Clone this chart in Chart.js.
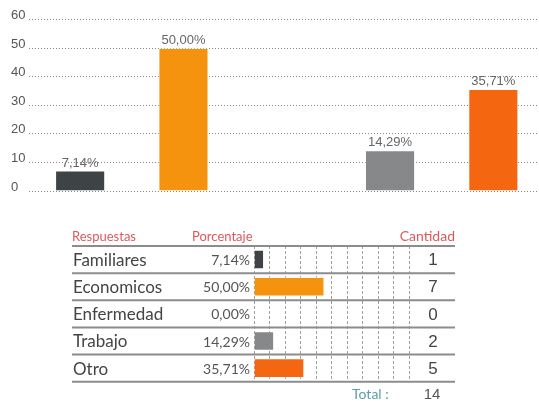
<!DOCTYPE html>
<html>
<head>
<meta charset="utf-8">
<script src="https://cdn.jsdelivr.net/npm/chart.js@4"></script>
<style>
  html, body { margin: 0; padding: 0; background: #fff; overflow: hidden; width: 539px; height: 402px; }
  #top { position: absolute; left: 0; top: 0; }
  #table { position: absolute; left: 0; top: 200px; }
</style>
</head>
<body>
<canvas id="top" width="545" height="200"></canvas>
<canvas id="table" width="539" height="202"></canvas>
<script>
const categories = ["Familiares", "Economicos", "Enfermedad", "Trabajo", "Otro"]
const percentages = [7.14, 50.00, 0, 14.29, 35.71]
const counts = [1, 7, 0, 2, 5]
const total = 14
const yMax = 60
const yStep = 10

const barColors = ["#3e4345", "#f5930f", "#9a9a9a", "#87888a", "#f4660f"]

const fmt = v => v.toFixed(2).replace(".", ",") + "%"

// value labels above the top bars
const valueLabels = {
  id: "valueLabels",
  afterDatasetsDraw(chart) {
    const { ctx } = chart
    const meta = chart.getDatasetMeta(0)
    ctx.save()
    ctx.font = "13px 'Liberation Sans', Arial, sans-serif"
    ctx.fillStyle = "#666"
    ctx.textAlign = "center"
    ctx.textBaseline = "alphabetic"
    meta.data.forEach((bar, i) => {
      const v = percentages[i]
      if (!v) return
      ctx.fillText(fmt(v), bar.x, bar.y - 4)
    })
    ctx.restore()
  },
}

new Chart(document.getElementById("top").getContext("2d"), {
  type: "bar",
  data: {
    labels: categories,
    datasets: [
      {
        data: percentages,
        backgroundColor: barColors,
        borderColor: "rgba(255,255,255,0.35)",
        borderWidth: 1,
        barPercentage: 0.485,
        categoryPercentage: 1,
      },
    ],
  },
  options: {
    responsive: false,
    animation: false,
    layout: { padding: { left: 11, top: 19.5, bottom: 9, right: 0 } },
    plugins: { legend: { display: false }, tooltip: { enabled: false } },
    scales: {
      x: { display: false },
      y: {
        min: 0,
        max: yMax,
        afterFit(scale) { scale.width = 17.5 },
        ticks: {
          stepSize: yStep,
          crossAlign: "far",
          labelOffset: -4,
          padding: 0,
          color: "#555",
          font: { family: "'Liberation Sans', Arial, sans-serif", size: 13 },
        },
        grid: {
          color: "#888",
          lineWidth: 1,
          drawTicks: false,
        },
        border: { display: false, dash: [1, 2] },
      },
    },
  },
  plugins: [valueLabels],
})

// table text, row rules
const tableText = {
  id: "tableText",
  afterDraw(chart) {
    const { ctx, chartArea } = chart
    const yScale = chart.scales.y
    const rowH = (chartArea.bottom - chartArea.top) / categories.length
    const left = 72, right = 455
    ctx.save()

    // header
    ctx.font = "13px Lato, sans-serif"
    ctx.fillStyle = "#e0575b"
    ctx.textBaseline = "alphabetic"
    ctx.textAlign = "left"
    ctx.fillText("Respuestas", left, chartArea.top - 5)
    ctx.fillText("Porcentaje", 192, chartArea.top - 5)
    ctx.textAlign = "right"
    ctx.font = "14px Lato, sans-serif"
    ctx.fillText("Cantidad", right, chartArea.top - 5)

    // rules
    ctx.strokeStyle = "#8c8c8c"
    ctx.lineWidth = 2
    for (let i = 0; i <= categories.length; i++) {
      const y = chartArea.top + i * rowH
      ctx.beginPath()
      ctx.moveTo(left, y)
      ctx.lineTo(right, y)
      ctx.stroke()
    }

    ctx.textBaseline = "middle"
    categories.forEach((c, i) => {
      const y = yScale.getPixelForValue(i) + 1
      ctx.fillStyle = "#444"
      ctx.font = "17px Lato, sans-serif"
      ctx.textAlign = "left"
      ctx.fillText(c, left + 1, y)
      ctx.fillStyle = "#555"
      ctx.font = "14px Lato, sans-serif"
      ctx.textAlign = "right"
      ctx.fillText(fmt(percentages[i]), 250, y)
      ctx.fillStyle = "#444"
      ctx.font = "17px 'Liberation Sans', Arial, sans-serif"
      ctx.textAlign = "center"
      ctx.fillText(String(counts[i]), 433, y)
    })

    // total
    const ty = chartArea.bottom + 13
    ctx.font = "14px Lato, sans-serif"
    ctx.fillStyle = "#5b9ea8"
    ctx.textAlign = "left"
    ctx.fillText("Total :", 352, ty)
    ctx.font = "15px 'Liberation Sans', Arial, sans-serif"
    ctx.fillStyle = "#555"
    ctx.textAlign = "center"
    ctx.fillText(String(total), 432, ty)
    ctx.restore()
  },
}

new Chart(document.getElementById("table").getContext("2d"), {
  type: "bar",
  data: {
    labels: categories,
    datasets: [
      {
        data: percentages,
        backgroundColor: barColors,
        borderColor: "rgba(255,255,255,0.4)",
        borderWidth: 1,
        barPercentage: 0.72,
        categoryPercentage: 1,
      },
    ],
  },
  options: {
    indexAxis: "y",
    responsive: false,
    animation: false,
    layout: { padding: { left: 254, right: 130, top: 46, bottom: 20.3 } },
    plugins: { legend: { display: false }, tooltip: { enabled: false } },
    scales: {
      x: {
        min: 0,
        max: 110,
        ticks: { display: false, stepSize: 11 },
        grid: { color: "#a0a0a0", lineWidth: 1, drawTicks: false },
        border: { display: false, dash: [3, 2] },
      },
      y: { display: false },
    },
  },
  plugins: [tableText],
})
</script>
</body>
</html>
